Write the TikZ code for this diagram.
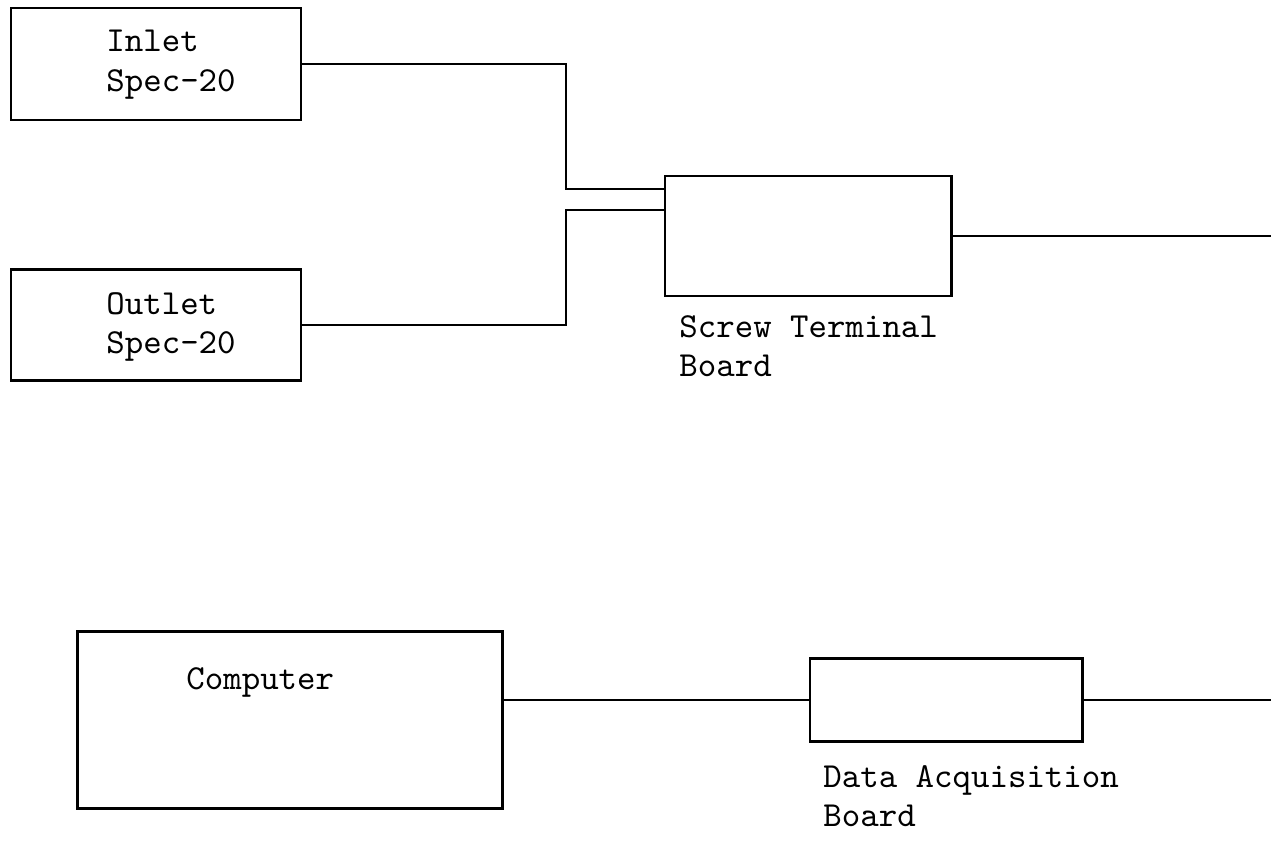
\documentclass[tikz,border=0pt]{standalone}
\usepackage{fontspec}
\usepackage{tikz}
\usetikzlibrary{positioning, calc}
\tikzstyle{block}=[draw,thick,rectangle,inner sep=0pt]
\tikzstyle{boxtext}=[align=left,anchor=north west,inner sep=0pt,font=\ttfamily\fontsize{10}{11.2}\selectfont]

\begin{document}
\begin{tikzpicture}[x=0.01cm,y=-0.01cm,thick]
\useasboundingbox (0,0) rectangle (1271,840);
\node [block,minimum width=2.9cm,minimum height=1.12cm] (inlet) at (156,64) {};
\node [block,minimum width=2.9cm,minimum height=1.11cm] (outlet) at (156,325) {};
\node [block,minimum width=2.86cm,minimum height=1.2cm] (screw) at (808,236) {};
\node [block,minimum width=4.24cm,minimum height=1.77cm] (computer) at (290,720) {};
\node [block,minimum width=2.72cm,minimum height=0.83cm] (daq) at (946,700) {};
\node [boxtext] (inlettext) at (105,29) {Inlet\\Spec-20};
\node [boxtext] (outlettext) at (105,291) {Outlet\\Spec-20};
\node [boxtext] (computertext) at (185,666) {Computer};
\node [boxtext] (screwtext) at (678,314) {Screw Terminal\\Board};
\node [boxtext] (daqtext) at (822,764) {Data Acquisition\\Board};
\coordinate (j1) at (566,189);
\coordinate (j2) at (566,210);
\coordinate (e1) at (1271,236);
\coordinate (e2) at (1271,700);
\draw (inlet.east) -| (j1) -- (j1 -| screw.west);
\draw (outlet.east) -| (j2) -- (j2 -| screw.west);
\draw (screw.east) -- (e1);
\draw (computer.east |- daq.west) -- (daq.west);
\draw (daq.east) -- (e2);
\end{tikzpicture}
\end{document}
